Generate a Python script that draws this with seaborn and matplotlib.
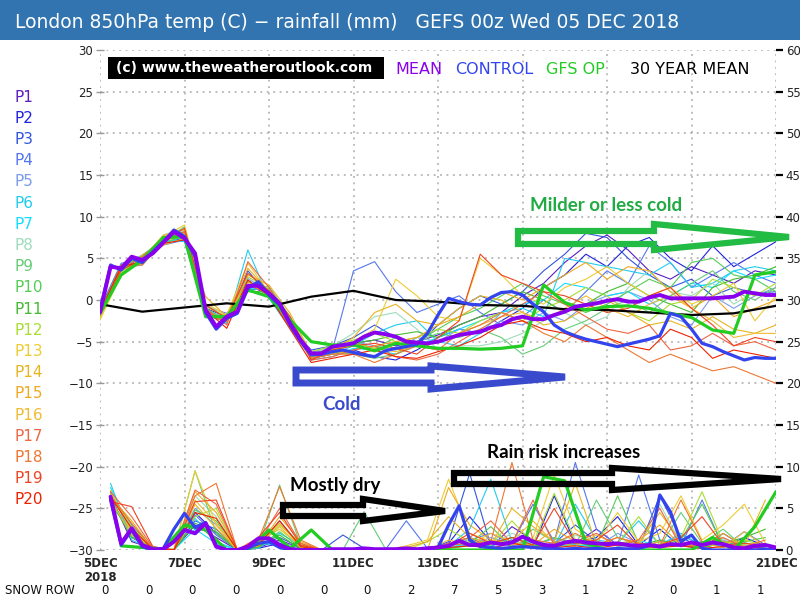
import numpy as np
import pandas as pd
import matplotlib
matplotlib.use("Agg")
import matplotlib.pyplot as plt
import seaborn as sns
from matplotlib.patches import Polygon, Rectangle

sns.set_theme(style="white")
plt.rcParams['font.family'] = ['DejaVu Sans']

W, H = 800, 600

# ---------------- data ----------------
members = ["P%d" % i for i in range(1, 21)]
member_colors = ["#5a1fc0", "#2222dd", "#3355dd", "#5577ee", "#7b9bee",
                 "#22ccee", "#11ddff", "#9edcbc", "#66cc77", "#55cc55",
                 "#44bb33", "#aadd33", "#eecc33", "#e8b420", "#eeaa22",
                 "#eebb33", "#ee6644", "#ee7733", "#ee4422", "#ee2200"]

day_ticks = [0, 2, 4, 6, 8, 10, 12, 14, 16]
day_labels = ["5DEC\n2018", "7DEC", "9DEC", "11DEC", "13DEC",
              "15DEC", "17DEC", "19DEC", "21DEC"]
snow_row = [0, 0, 0, 0, 0, 0, 0, 2, 7, 5, 3, 1, 2, 0, 1, 1]

# 30 year mean, daily
clim_temp = [-0.5, -1.4, -0.9, -0.4, -0.8, 0.4, 1.1, 0.0, -0.2, -0.6,
             -0.7, -1.1, -1.2, -1.5, -1.8, -1.6, -0.7]

# ensemble mean and control, 6-hourly from day 0
mean_temp = [-1.5, 4.0, 3.8, 5.2, 4.8, 5.6, 6.9, 8.2, 7.4, 5.6, -1.2, -3.2, -2.0,
             -1.4, 1.7, 1.7, 0.8, -0.4, -2.8, -4.8, -6.4, -6.4, -5.6, -5.4, -5.2,
             -4.4, -3.9, -4.1, -4.4, -5.0, -5.1, -5.2, -5.0, -4.6, -4.2, -4.0, -3.8,
             -3.3, -3.0, -2.3, -2.0, -2.3, -2.3, -1.8, -1.4, -0.8, -0.6, -0.4, -0.1,
             0.1, -0.2, -0.2, 0.3, 0.6, 0.2, 0.2, 0.2, 0.2, 0.2, 0.3, 0.4, 1.0, 0.8,
             0.6, 0.6]
ctrl_temp = [-1.2, 4.2, 3.6, 5.0, 4.5, 5.8, 7.0, 8.4, 7.6, 5.2, -1.5, -3.5, -2.2,
             -1.6, 1.4, 2.2, 0.6, -0.6, -3.0, -5.0, -6.6, -6.5, -6.2, -6.0, -6.3,
             -6.6, -6.8, -6.1, -5.8, -5.6, -5.3, -4.0, -1.8, 0.2, -0.2, -0.5, -0.6,
             0.3, 0.9, 1.0, 0.6, -0.5, -1.4, -3.0, -3.8, -4.3, -4.7, -5.0, -5.3,
             -5.6, -5.3, -5.0, -4.7, -4.3, -1.6, -2.0, -3.5, -5.2, -5.6, -6.2, -6.7,
             -7.2, -6.9, -7.0, -7.0]
# GFS operational, 12-hourly from day 0
op_temp = [-1.6, 3.0, 4.8, 7.5, 7.6, -2.0, -2.0, 1.2, 0.4, -2.4, -5.0, -5.4, -5.4,
           -6.1, -5.2, -5.5, -5.8, -5.8, -5.9, -5.8, -5.5, 1.8, -0.3, -1.2, -0.8,
           -0.7, -1.0, -1.6, -2.1, -3.6, -4.0, 3.0, 3.4]

# rainfall (mm), mean/control 6-hourly from day 0.25
mean_rain = [6.4, 0.8, 2.6, 0.6, 0.1, 0.1, 1.0, 2.4, 2.0, 3.2, 0.4, 0.0, 0.0, 0.4,
             1.4, 1.4, 0.6, 0.1, 0.0, 0.0, 0.0, 0.1, 0.1, 0.1, 0.2, 0.1, 0.1, 0.1,
             0.2, 0.1, 0.2, 0.3, 0.5, 1.1, 0.6, 0.6, 0.9, 0.7, 0.9, 1.6, 1.0, 0.6,
             0.5, 0.9, 1.1, 0.9, 0.8, 0.7, 0.8, 0.6, 0.5, 0.6, 0.4, 0.7, 0.6, 0.9,
             0.6, 0.9, 0.7, 0.3, 0.2, 0.5, 0.6, 0.3]
ctrl_rain = [6.0, 0.6, 2.4, 0.4, 0.0, 0.2, 2.5, 4.4, 2.7, 3.3, 0.5, 0.0, 0.0, 0.2,
             0.8, 1.0, 0.3, 0.0, 0.0, 0.0, 0.0, 0.0, 0.0, 0.0, 0.0, 0.0, 0.0, 0.0,
             0.0, 0.0, 0.2, 0.3, 3.0, 5.3, 1.2, 0.4, 0.3, 0.2, 0.3, 0.4, 0.3, 0.2,
             0.2, 0.1, 0.2, 0.1, 0.2, 0.1, 0.2, 0.1, 0.2, 0.5, 6.6, 4.6, 1.0, 1.8,
             0.2, 0.0, 0.0, 0.0, 0.1, 0.0, 0.1, 0.0]
# GFS operational rain, 12-hourly from day 0.5
op_rain = [0.5, 0.3, 0.1, 3.0, 2.4, 0.0, 0.0, 2.4, 0.2, 2.4, 0.0, 0.0, 0.0, 0.0,
           0.0, 0.0, 0.0, 0.0, 0.0, 0.0, 8.8, 8.3, 0.8, 0.0, 0.0, 0.0, 0.0, 0.0,
           1.5, 0.0, 2.8, 7.0]

# perturbation temperatures, 12-hourly from day 0 (P1..P20)
pert_temp = [
    [-1.2, 4.2, 5.0, 7.2, 7.8, -1.5, -2.4, 1.8, 0.6, -3.0, -6.5, -6.0, -5.2, -4.8, -5.5, -5.0, -4.2, -3.0, -2.0, -1.5, 0.5, 2.0, 4.5, 6.5, 7.8, 6.0, 3.5, 2.5, 4.0, 3.0, 2.0, 3.5, 3.0],
    [-1.5, 4.0, 4.6, 7.0, 7.4, -1.0, -2.0, 2.2, 1.0, -2.6, -7.0, -6.5, -6.0, -6.8, -7.2, -6.0, -4.5, -3.5, -4.0, -2.5, -1.0, 1.5, 3.0, 5.5, 4.0, 6.5, 7.5, 5.0, 3.5, 6.5, 4.0, 5.5, 7.0],
    [-1.8, 3.6, 5.2, 7.4, 8.0, -1.8, -2.6, 3.5, 0.5, -3.2, -6.0, -5.5, -4.5, -3.0, -4.5, -5.5, -3.0, -1.0, 0.5, -0.5, 1.0, 3.5, 5.5, 8.0, 7.5, 5.0, 3.0, 1.5, 2.5, 0.5, 1.5, 0.8, 1.0],
    [-1.0, 4.4, 5.0, 6.6, 7.2, -0.8, -1.6, 1.2, 1.4, -2.2, -6.8, -6.0, 3.5, 4.6, 1.0, -1.5, -0.5, 0.5, -1.5, -3.0, -2.0, 0.0, -1.5, 1.0, 3.5, 2.0, 6.5, 4.5, 1.5, 3.0, 4.5, 3.0, 2.0],
    [-1.4, 3.8, 4.4, 7.6, 8.4, -1.2, -2.2, 2.6, 0.9, -2.9, -6.2, -5.8, -5.0, -5.5, -6.0, -4.5, -5.0, -3.5, -4.0, -2.5, -3.0, -1.5, -2.5, -0.5, 0.5, 1.0, 0.0, -2.0, -3.0, 0.5, -1.0, 0.5, 1.5],
    [-1.6, 3.4, 4.8, 6.8, 7.6, -1.4, -2.8, 6.0, 0.2, -3.4, -7.0, -6.5, -5.5, -4.0, -3.0, -2.5, -5.0, -5.5, -4.0, -1.5, -1.0, -2.0, 5.0, 4.5, 4.0, 3.5, 3.0, 4.5, 1.5, 2.0, 3.5, 4.0, 3.5],
    [-1.2, 4.0, 5.4, 7.2, 7.0, -1.6, -2.0, 1.4, 1.2, -2.5, -7.2, -6.8, -5.8, -6.0, -6.5, -5.5, -4.5, -3.5, -2.5, -1.5, -0.5, 0.0, 2.0, 1.5, 0.5, 1.0, -0.5, 0.5, 2.0, 1.5, 3.5, 2.5, 3.0],
    [-1.8, 3.2, 4.6, 7.8, 8.6, -0.6, -1.8, 2.0, 0.7, -2.7, -6.5, -5.5, -4.0, -2.0, -1.5, -3.5, -6.0, -5.5, -5.5, -5.0, -4.0, -2.5, -1.5, -3.0, -2.0, 1.5, 3.5, 1.0, 0.5, 2.0, -0.5, 1.0, 0.5],
    [-2.0, 3.8, 4.2, 7.0, 8.8, -1.0, -2.4, 1.6, 1.6, -2.0, -6.8, -6.2, -6.5, -7.0, -6.5, -5.0, -4.0, -4.5, -3.5, -4.5, -6.5, -5.5, -3.5, -2.5, -1.0, 0.0, -1.5, 0.5, 2.0, 3.5, 1.0, 0.0, 1.5],
    [-1.4, 4.2, 5.2, 6.8, 7.8, -1.8, -2.2, 2.4, 0.4, -3.0, -7.0, -6.0, -5.0, -5.8, -4.5, -5.0, -3.5, -2.0, -1.0, 0.5, 2.0, 0.5, -0.5, -1.5, -0.5, 1.0, 2.5, 1.5, 4.5, 5.0, 3.0, 2.5, 1.0],
    [-1.6, 3.6, 4.8, 7.4, 8.2, -1.2, -2.6, 1.0, 1.0, -2.6, -6.5, -5.8, -5.2, -4.8, -4.2, -3.8, -4.5, -3.0, -2.0, -0.5, 1.0, 0.0, -1.5, -0.5, 1.0, 2.0, 0.5, -0.5, -1.5, 1.5, 2.5, 3.0, 4.0],
    [-2.2, 3.4, 5.0, 7.2, 7.6, -0.8, -2.0, 2.8, 1.3, -2.4, -6.2, -5.5, -4.8, -4.0, -5.0, -4.5, -3.5, -4.0, -2.5, -1.5, -2.5, -1.0, 0.0, 1.5, 0.5, -1.5, -2.5, -0.5, 0.0, 2.5, 1.5, 0.5, 2.0],
    [-2.4, 3.0, 4.6, 7.6, 9.0, -0.4, -1.8, 4.4, 0.9, -2.2, -7.0, -6.2, -5.0, -3.5, 2.5, 0.5, -2.0, -2.5, 5.0, 3.0, 0.5, -0.5, 1.5, 2.5, 4.0, 2.0, 0.5, 1.5, -0.5, 0.5, 2.0, -2.5, 0.5],
    [-1.8, 3.6, 5.4, 7.0, 8.0, -1.4, -2.4, 3.0, 1.8, -1.6, -6.5, -6.0, -4.5, -1.5, -0.5, -2.5, -3.0, -1.0, 0.5, 0.0, -1.5, -3.0, -2.5, -1.0, 0.0, -1.5, -3.0, -2.5, -3.5, -2.0, -3.5, -4.0, -3.0],
    [-1.5, 4.0, 4.4, 6.6, 7.4, 0.4, -2.0, 3.8, 1.0, -3.0, -7.0, -6.5, -6.0, -5.5, -5.0, -4.5, -3.0, -2.0, -0.5, 1.0, 0.0, 1.5, 3.0, 4.5, 2.5, 4.0, 3.5, 1.0, -1.0, 0.5, -2.0, -1.0, 0.0],
    [-2.0, 3.2, 5.0, 7.8, 8.4, -1.6, -2.2, 2.2, 0.6, -2.8, -6.8, -6.0, -5.2, -5.8, -6.2, -5.5, -5.0, -4.0, -3.0, -2.0, -1.5, -2.5, -1.0, 0.5, -1.0, -2.0, -0.5, 0.5, -1.0, -2.5, -4.5, -4.0, -4.0],
    [-1.6, 4.2, 4.2, 7.0, 8.2, -1.0, -3.0, 4.6, 1.5, -2.5, -7.2, -6.8, -6.0, -5.5, -6.8, -7.2, -6.5, -5.0, -3.5, -2.0, -0.5, 1.0, -0.5, -2.0, -3.5, -4.0, -3.0, -6.0, -5.5, -4.0, -5.5, -5.0, -6.0],
    [-1.2, 3.8, 5.2, 7.4, 7.6, -1.8, -2.6, 1.8, 0.8, -3.3, -7.0, -6.5, -6.5, -7.5, -6.5, -5.5, -6.0, -4.0, -3.0, -1.5, -2.5, -4.0, -5.0, -3.0, -4.5, -6.0, -7.5, -6.5, -7.5, -8.5, -8.0, -9.0, -10.0],
    [-1.8, 3.6, 4.8, 7.2, 8.6, -0.6, -2.2, 3.2, 1.1, -2.0, -7.2, -6.0, -5.5, -5.2, -5.8, -6.5, -4.5, -2.5, 5.5, 3.0, 2.0, 1.0, 0.5, -0.5, -1.5, -1.0, 0.5, 1.5, -1.0, -3.0, -5.5, -4.5, -5.0],
    [-1.4, 4.0, 4.6, 6.8, 7.2, -1.2, -3.4, 2.4, 0.5, -3.5, -7.5, -7.0, -6.5, -6.0, -6.8, -7.0, -6.2, -5.5, -4.5, -3.0, -2.5, -3.5, -4.0, -5.0, -4.5, -5.5, -6.0, -3.5, -4.5, -7.0, -6.0, -6.5, -7.0],
]

# perturbation rainfall (mm), 12-hourly from day 0.25 (P1..P20)
pert_rain = [
    [6.5, 1.0, 0.2, 0.0, 3.0, 1.5, 0.0, 0.3, 1.2, 0.2, 0, 0, 0, 0, 0, 0, 0.5, 1.5, 0.3, 2.8, 1.2, 0.4, 0.8, 2.5, 0.6, 0.3, 1.0, 0.5, 0.2, 2.0, 0.4, 0.3],
    [6.2, 1.5, 0.1, 0.0, 4.5, 2.0, 0.0, 0.2, 0.8, 0.0, 0, 0, 0, 0, 0, 0, 0.8, 4.0, 1.0, 0.5, 0.3, 6.5, 0.8, 1.5, 4.0, 0.6, 2.5, 0.4, 1.0, 0.3, 1.5, 0.5],
    [7.0, 2.0, 0.0, 0.1, 3.5, 2.5, 0.0, 0.5, 1.5, 0.3, 0.0, 1.8, 0.2, 0, 0, 0, 1.0, 9.2, 0.5, 1.2, 0.4, 0.8, 3.0, 1.0, 0.5, 0.2, 6.5, 1.5, 0.3, 0.8, 0.2, 0.4],
    [6.8, 3.0, 0.2, 0.0, 4.2, 1.8, 0.0, 0.4, 3.5, 0.5, 0, 0, 0, 0, 3.5, 0.2, 0.6, 1.2, 2.0, 0.8, 5.5, 1.0, 10.5, 2.5, 0.6, 9.0, 1.2, 0.5, 6.0, 0.4, 2.2, 0.6],
    [6.0, 2.2, 0.1, 0.0, 5.0, 3.0, 0.0, 0.6, 1.0, 0.2, 0, 0, 0, 0, 0, 0, 0.4, 0.6, 1.5, 0.8, 0.5, 1.4, 0.6, 0.3, 2.0, 0.8, 0.6, 1.8, 0.5, 1.2, 0.3, 0.6],
    [8.0, 1.2, 0.0, 0.0, 3.8, 1.0, 0.0, 0.2, 2.0, 0.6, 0, 0, 0, 0, 0, 0, 0.5, 2.5, 8.5, 1.0, 0.6, 0.4, 5.5, 1.2, 0.8, 3.5, 0.6, 2.0, 0.5, 1.0, 0.6, 0.3],
    [7.5, 1.8, 0.3, 0.0, 2.5, 0.8, 0.0, 0.8, 0.6, 0.0, 0, 0, 0, 0, 0, 0, 0.3, 0.8, 0.5, 1.5, 0.8, 0.5, 0.6, 0.4, 0.7, 1.2, 0.4, 0.8, 0.5, 0.6, 0.9, 0.3],
    [6.5, 2.5, 0.2, 0.1, 6.5, 4.0, 0.0, 1.0, 2.5, 0.4, 0, 0, 0, 0, 0, 0, 0.4, 1.0, 0.6, 2.0, 1.2, 0.8, 1.8, 1.0, 0.5, 0.3, 5.5, 0.8, 0.6, 1.4, 0.4, 0.5],
    [6.0, 1.5, 0.4, 0.0, 9.5, 2.0, 0.0, 0.5, 7.8, 0.6, 0, 0, 4.6, 0.2, 0, 0, 0.5, 1.5, 0.8, 0.6, 2.5, 1.0, 0.5, 6.0, 1.5, 0.6, 0.4, 4.5, 0.8, 2.5, 0.3, 0.6],
    [5.5, 2.0, 0.1, 0.0, 4.8, 3.5, 0.0, 0.3, 2.2, 0.2, 0, 0, 0, 0, 0, 0, 0.6, 0.8, 2.8, 0.4, 0.6, 1.5, 0.8, 0.5, 6.5, 0.8, 0.6, 1.2, 5.5, 0.5, 1.0, 1.5],
    [6.2, 1.6, 0.0, 0.0, 3.2, 2.2, 0.0, 0.4, 1.8, 0.1, 0, 0, 0, 0, 0, 0, 0.2, 0.5, 0.8, 1.5, 0.6, 0.3, 1.0, 0.4, 0.8, 0.5, 1.2, 0.6, 0.3, 0.8, 1.5, 2.5],
    [6.8, 2.8, 0.2, 0.0, 4.0, 5.0, 0.0, 0.6, 3.0, 0.8, 0, 0, 0, 0, 0, 1.0, 2.5, 1.0, 0.6, 3.5, 0.8, 6.8, 1.2, 0.5, 0.8, 4.0, 0.6, 1.5, 7.0, 0.8, 1.2, 0.5],
    [7.2, 2.0, 0.3, 0.1, 9.5, 3.0, 0.0, 1.2, 2.5, 0.6, 0, 0, 0, 0, 0.5, 1.2, 8.5, 2.0, 1.0, 0.6, 1.5, 9.0, 2.5, 0.8, 4.5, 1.0, 2.0, 6.5, 1.2, 3.0, 5.5, 0.8],
    [6.4, 3.5, 0.1, 0.0, 5.5, 2.6, 0.0, 0.9, 3.2, 0.5, 0, 0, 0, 0, 0.3, 1.0, 4.0, 1.5, 0.6, 5.0, 2.8, 1.0, 8.0, 0.6, 1.5, 0.8, 4.5, 1.0, 0.6, 2.0, 0.5, 6.0],
    [6.6, 2.4, 0.2, 0.0, 7.0, 4.5, 0.0, 0.5, 4.0, 1.0, 0, 0, 0, 0, 0, 0, 7.5, 3.0, 1.2, 0.8, 0.6, 2.5, 1.0, 0.5, 0.8, 1.2, 3.0, 0.6, 0.4, 1.0, 0.8, 0.5],
    [6.0, 1.8, 0.0, 0.0, 6.0, 3.2, 0.0, 0.7, 2.8, 0.3, 0, 0, 0, 0, 0, 0, 1.2, 0.6, 2.0, 1.0, 3.5, 0.8, 0.5, 1.8, 0.6, 0.4, 1.0, 0.6, 0.8, 0.3, 2.2, 0.4],
    [7.0, 4.0, 0.3, 0.0, 7.2, 5.5, 0.0, 0.8, 5.0, 0.8, 0, 0, 0, 0, 0, 0, 0.8, 1.5, 3.5, 0.8, 6.0, 0.6, 1.0, 2.0, 0.5, 1.2, 5.0, 0.4, 0.6, 1.5, 0.3, 0.8],
    [6.5, 3.2, 0.2, 0.0, 6.5, 8.0, 0.0, 1.2, 7.6, 1.2, 0, 0, 0, 0, 0, 0, 0.6, 0.8, 1.0, 10.5, 1.2, 0.8, 2.0, 0.6, 1.5, 0.8, 0.5, 6.0, 1.0, 0.8, 0.4, 1.2],
    [5.8, 5.2, 0.4, 0.0, 5.8, 6.0, 0.0, 1.5, 4.5, 0.6, 0, 0, 0, 0, 0, 0, 0.5, 2.0, 0.8, 1.5, 0.6, 5.0, 0.8, 1.2, 3.0, 0.5, 0.6, 1.5, 4.0, 0.6, 0.8, 0.5],
    [6.4, 2.6, 0.1, 0.0, 4.5, 3.8, 0.0, 0.6, 3.5, 0.4, 0, 0, 0, 0, 0, 0, 0.3, 0.5, 0.2, 0.8, 0.4, 0.3, 0.5, 0.2, 0.6, 0.4, 0.3, 0.5, 0.2, 0.4, 0.3, 0.2],
]

mean_col, ctrl_col, op_col = "#8800ee", "#3344ee", "#22cc22"


def days(values, start, step):
    return start + step * np.arange(len(values))


rows_t, rows_r = [], []
for name, tv, rv in zip(members, pert_temp, pert_rain):
    for d, v in zip(days(tv, 0.0, 0.5), tv):
        rows_t.append((name, d, v))
    for d, v in zip(days(rv, 0.25, 0.5), rv):
        rows_r.append((name, d, v))
df_t = pd.DataFrame(rows_t, columns=["member", "day", "temp"])
df_r = pd.DataFrame(rows_r, columns=["member", "day", "rain"])
palette = dict(zip(members, member_colors))

# ---------------- figure ----------------
fig = plt.figure(figsize=(W / 100, H / 100), dpi=100)
fig.patch.set_facecolor("white")


def px(x, y):
    return (x / W, 1 - y / H)


ax = fig.add_axes([100 / W, 1 - 550 / H, 676 / W, 500 / H])
ax2 = ax.twinx()

grid_kw = dict(color="#a8a8a8", lw=1.1, linestyle=(0, (1.2, 3)))
for d in day_ticks:
    ax.axvline(d, zorder=0, **grid_kw)
for yv in range(-30, 31, 5):
    ax.axhline(yv, zorder=0, **grid_kw)

sns.lineplot(data=df_t, x="day", y="temp", hue="member", palette=palette,
             linewidth=0.8, legend=False, estimator=None, ax=ax, zorder=2)
sns.lineplot(x=np.arange(len(clim_temp)), y=clim_temp, color="black",
             linewidth=1.6, ax=ax, zorder=4)
sns.lineplot(x=days(op_temp, 0.0, 0.5), y=op_temp, color=op_col,
             linewidth=2.3, ax=ax, zorder=5)
sns.lineplot(x=days(ctrl_temp, 0.0, 0.25), y=ctrl_temp, color=ctrl_col,
             linewidth=2.3, ax=ax, zorder=5)
sns.lineplot(x=days(mean_temp, 0.0, 0.25), y=mean_temp, color=mean_col,
             linewidth=2.8, ax=ax, zorder=6)

sns.lineplot(data=df_r, x="day", y="rain", hue="member", palette=palette,
             linewidth=0.8, legend=False, estimator=None, ax=ax2, zorder=2)
sns.lineplot(x=days(op_rain, 0.5, 0.5), y=op_rain, color=op_col,
             linewidth=2.3, ax=ax2, zorder=5)
sns.lineplot(x=days(ctrl_rain, 0.25, 0.25), y=ctrl_rain, color=ctrl_col,
             linewidth=2.3, ax=ax2, zorder=5)
sns.lineplot(x=days(mean_rain, 0.25, 0.25), y=mean_rain, color=mean_col,
             linewidth=2.8, ax=ax2, zorder=6)

ax.set_xlim(0, 16)
ax.set_ylim(-30, 30)
ax2.set_ylim(0, 60)
ax.set_xlabel("")
ax.set_ylabel("")
ax2.set_ylabel("")
for a in (ax, ax2):
    for s in a.spines.values():
        s.set_visible(False)
    a.patch.set_visible(False)

ax.set_yticks(range(-30, 31, 5))
ax.set_yticklabels([str(v).replace("-", "\u2212") for v in range(-30, 31, 5)])
ax.tick_params(axis="y", direction="inout", length=6, width=1, color="#999999",
               labelsize=8.5, labelcolor="#222222", pad=2)
ax2.set_yticks(range(0, 61, 5))
ax2.tick_params(axis="y", direction="out", length=5, width=1.6, color="black",
                labelsize=8.5, labelcolor="#222222", pad=2)
ax.set_xticks(day_ticks)
ax.set_xticklabels(day_labels, fontweight="bold", fontsize=8.5,
                   linespacing=1.1)
ax.tick_params(axis="x", length=3, color="#999999", pad=2)

# title band
fig.patches.append(Rectangle(px(0, 40), 1, 40 / H, transform=fig.transFigure,
                             facecolor="#3174b0", edgecolor="none", zorder=0))
fig.text(*px(15, 22), "London 850hPa temp (C) \u2212 rainfall (mm)   GEFS 00z Wed 05 DEC 2018",
         color="white", fontsize=13.5, va="center", ha="left")

# top legend
fig.patches.append(Rectangle(px(108, 79), 276 / W, 22 / H, transform=fig.transFigure,
                             facecolor="black", edgecolor="none", zorder=5))
fig.text(*px(116, 68), "(c) www.theweatheroutlook.com", color="white",
         fontsize=10, fontweight="bold", va="center", zorder=6)
for label, col, x in [("MEAN", mean_col, 395), ("CONTROL", ctrl_col, 455),
                      ("GFS OP", op_col, 546), ("30 YEAR MEAN", "black", 630)]:
    fig.text(*px(x, 69), label, color=col, fontsize=11.5, va="center")

# member legend
for i, (name, col) in enumerate(zip(members, member_colors)):
    fig.text(*px(15, 97 + i * 21.2), name, color=col, fontsize=11, va="center")

# snow row
fig.text(*px(5, 590), "SNOW ROW", fontsize=8.5, va="center", color="#111111")
for i, v in enumerate(snow_row):
    fig.text(*px(105 + i * 43.7, 590), str(v), fontsize=8.5, va="center",
             ha="center", color="#111111")


# annotation arrows
def block_arrow(x0, yt, yb, xh, yht, yhb, xt, ym, col, lw):
    pts = [(x0, yt), (xh, yt), (xh, yht), (xt, ym), (xh, yhb), (xh, yb), (x0, yb)]
    fig.patches.append(Polygon([px(*p) for p in pts], closed=True, fill=False,
                               edgecolor=col, lw=lw, joinstyle="miter",
                               transform=fig.transFigure, zorder=8))


block_arrow(518, 231, 244, 654, 224, 250, 789, 237, "#22bb44", 4.5)
block_arrow(296, 370, 383, 431, 366, 389, 565, 377, "#3a4acc", 5)
block_arrow(283, 505, 516, 363, 499, 521, 445, 511, "black", 4.5)
block_arrow(454, 473, 484, 612, 468, 490, 781, 479, "black", 4.5)

ann = dict(fontsize=13.5, fontweight="bold", family=["Lato", "DejaVu Sans"],
           va="center", ha="left", zorder=9)
fig.text(*px(530, 206), "Milder or less cold", color="#22aa44", **ann)
fig.text(*px(322, 404), "Cold", color="#3a4acc", **ann)
fig.text(*px(290, 485), "Mostly dry", color="black", **ann)
fig.text(*px(487, 452), "Rain risk increases", color="black", **ann)

fig.savefig("out.png", dpi=100)
